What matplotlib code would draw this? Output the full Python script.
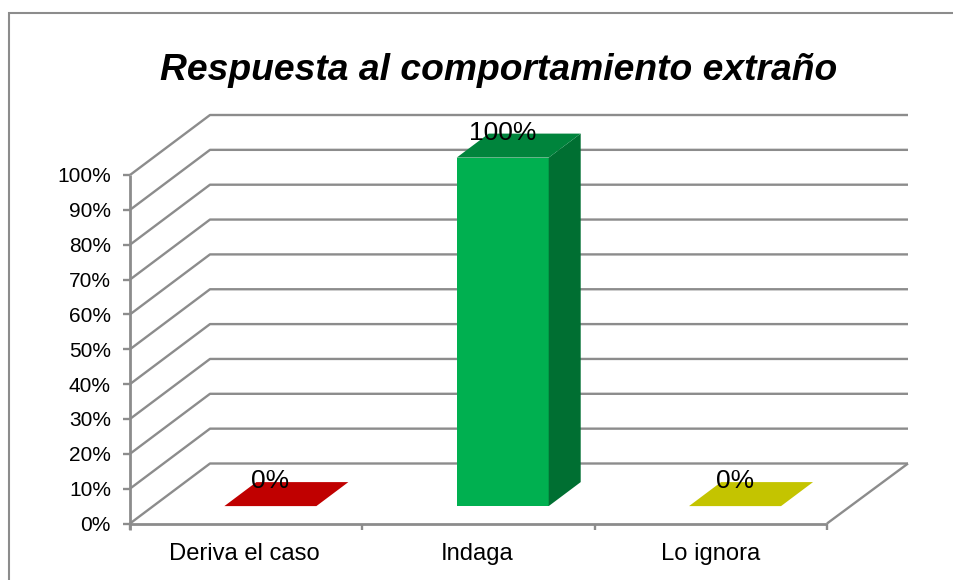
import matplotlib
matplotlib.use('Agg')
import matplotlib.pyplot as plt
from matplotlib.patches import Polygon, Rectangle

plt.rcParams['font.family'] = ['Liberation Sans', 'DejaVu Sans']

categories = ['Deriva el caso', 'Indaga', 'Lo ignora']
values = [0, 100, 0]
value_labels = ['0%', '100%', '0%']
ticks = [0, 10, 20, 30, 40, 50, 60, 70, 80, 90, 100]
colors = ['#C00000', '#00B050', '#C4C400']
top_colors = ['#C00000', '#00843C', '#C4C400']
side_colors = ['#900000', '#006F32', '#939300']

W, H = 954, 580
fig = plt.figure(figsize=(W / 100, H / 100), dpi=100)
# axes = front plane of the 3d box
L, R, B, T = 130, 827, 523.5, 175
ax = fig.add_axes([L / W, 1 - B / H, (R - L) / W, (B - T) / H])
ax.set_xlim(0, 3)
ax.set_ylim(0, 100)
ax.axis('off')

# pixel sizes to data units
px = 3 / (R - L)
py = 100 / (B - T)
DX = 80 * px
DY = 60 * py
grid = '#8C8C8C'

def line(xs, ys, lw=1.7):
    ax.plot(xs, ys, color=grid, lw=lw, clip_on=False, solid_capstyle='butt', zorder=1)

for t in ticks:
    line([0, DX, 3 + DX + px], [t, t + DY, t + DY])
    line([-7 * px, 0], [t, t])
line([0, 0], [-6 * py, 100], 2)
line([0, 3], [0, 0], 2)
line([3, 3 + DX + px], [0, DY])
for i in range(4):
    line([i, i], [0, -6 * py])

for t in ticks:
    ax.text(-19 * px, t - 2 * py, f'{t}%', ha='right', va='center', fontsize=15, color='black')
for i, c in enumerate(categories):
    ax.text(i + 0.5 - (2 - i) * px, -30.5 * py, c, ha='center', va='center', fontsize=17.1, color='black')

# bars sit between these depth fractions of the floor
D0, D1 = 0.29, 0.69
bar_w = 92 * px
for i, v in enumerate(values):
    x0 = i + 0.5 - bar_w / 2 + D0 * DX + px
    x1 = x0 + bar_w
    y0 = D0 * DY
    y1 = y0 + v
    ox = (D1 - D0) * DX
    oy = (D1 - D0) * DY
    if v > 0:
        ax.add_patch(Rectangle((x0, y0), bar_w, v, color=colors[i], lw=0, clip_on=False, zorder=3))
        ax.add_patch(Polygon([(x1, y0), (x1 + ox, y0 + oy), (x1 + ox, y1 + oy), (x1, y1)], color=side_colors[i], lw=0, clip_on=False, zorder=3))
    ax.add_patch(Polygon([(x0, y1), (x1, y1), (x1 + ox, y1 + oy), (x0 + ox, y1 + oy)], color=top_colors[i], lw=0, clip_on=False, zorder=3))
    ax.text(x0 + bar_w / 2, y1 + 25 * py, value_labels[i], ha='center', va='center', fontsize=19, color='black', zorder=4)

fig.text(498.5 / W, 1 - 70 / H, 'Respuesta al comportamiento extraño', ha='center', va='center',
         fontsize=26.8, fontweight='bold', fontstyle='italic', color='black')

# chart border, only top and left are inside the picture
fig.add_artist(Rectangle((9.5 / W, -5 / H), (W + 5) / W, (H + 5 - 12.5) / H, transform=fig.transFigure,
                         fill=False, edgecolor='#8C8C8C', lw=1.5))

fig.savefig('out.png', dpi=100)
